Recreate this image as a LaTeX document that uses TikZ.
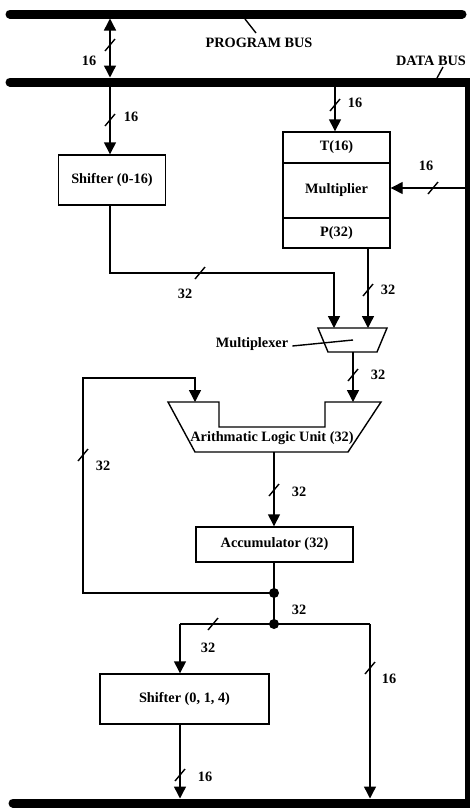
\documentclass[tikz,border=0pt]{standalone}
\usepackage{fontspec}
\setmainfont{Liberation Serif}
\usetikzlibrary{arrows.meta}
\begin{document}
\begin{tikzpicture}[x=1pt,y=-1pt,
  bus/.style={line width=9pt, line cap=round},
  wire/.style={line width=1.4pt},
  arr/.style={wire, -{Triangle[length=12pt,width=12pt]}},
  dbl/.style={wire, {Triangle[length=12pt,width=12pt]}-{Triangle[length=12pt,width=12pt]}},
  txt/.style={font=\fontsize{14.3}{16}\selectfont\bfseries, inner sep=0pt},
  blk/.style={draw, line width=1.4pt, inner sep=0pt, font=\fontsize{14.3}{16}\selectfont\bfseries},
  sl/.pic={\draw[line width=1.4pt] (-5,6) -- (5,-6);}
]
\useasboundingbox (0,0) rectangle (470,809);
% buses
\coordinate (pbL) at (10,14);
\coordinate (pbR) at (462,14);
\coordinate (dbL) at (10,82);
\coordinate (dbR) at (470,82);
\coordinate (bbL) at (13,803);
\coordinate (bbR) at (474,803);
\coordinate (rTop) at (467,82);
\coordinate (rBot) at (467,803);
\draw[bus] (pbL) -- (pbR);
\draw[bus] (dbL) -- (dbR);
\draw[bus] (bbL) -- (bbR);
\draw[line width=5pt] (rTop) -- (rBot);
% bus labels
\node[txt] (pbus) at (259,43) {PROGRAM BUS};
\draw[wire] (256,33) coordinate (pbk) -- (245,19) coordinate (pbt);
\node[txt] (dbus) at (431,61) {DATA BUS};
\draw[wire] (443,67) coordinate (dbk) -- (437,78) coordinate (dbt);
% program <-> data
\coordinate (pd1) at (110,18.5);
\coordinate (pd2) at (110,77.5);
\draw[dbl] (pd1) -- (pd2);
\pic at (110,45) {sl};
\node[txt] at (89,61) {16};
% shifter 0-16
\node[blk, minimum width=107pt, minimum height=50pt] (sh1) at (112,180) {Shifter (0-16)};
\coordinate (db1) at (110,86.5);
\draw[arr] (db1) -- (db1 |- sh1.north);
\pic at (110,120) {sl};
\node[txt] at (131,117) {16};
% multiplier
\node[blk, minimum width=107pt, minimum height=31pt] (T) at (336.5,147.5) {T(16)};
\node[blk, minimum width=107pt, minimum height=55pt] (mult) at (336.5,190.5) {Multiplier};
\node[blk, minimum width=107pt, minimum height=30pt] (P) at (336.5,233) {P(32)};
\coordinate (db2) at (335,86.5);
\draw[arr] (db2) -- (db2 |- T.north);
\pic at (335,105) {sl};
\node[txt] at (355,103) {16};
\coordinate (rin) at (464.5,188);
\draw[arr] (rin) -- (rin -| mult.east);
\pic at (433,188) {sl};
\node[txt] at (426,166) {16};
% multiplexer
\coordinate (muxTL) at (318,328);
\coordinate (muxTR) at (387,328);
\coordinate (muxBR) at (377,352);
\coordinate (muxBL) at (328,352);
\draw[wire, line join=miter] (muxTL) -- (muxTR) -- (muxBR) -- (muxBL) -- cycle;
\coordinate (muxIn1) at (334,328);
\coordinate (muxIn2) at (368,328);
\coordinate (muxOut) at (353,352);
\draw[arr] (sh1.south -| db1) |- (334,273) coordinate (bend1) -- (muxIn1);
\pic at (200,273) {sl};
\node[txt] at (185,294) {32};
\draw[arr] (P.south -| muxIn2) -- (muxIn2);
\pic at (368,290) {sl};
\node[txt] at (388,290) {32};
\node[txt] (muxlbl) at (252,344) {Multiplexer};
\draw[wire] (muxlbl.east) ++(4,2) coordinate (mlk) -- (353,340) coordinate (mlt);
% ALU
\coordinate (aluIn1) at (195,402);
\coordinate (aluIn2) at (353,402);
\coordinate (aluOut) at (274,452);
\draw[wire, line join=miter] (168,402) -- (219,402) -- (219,427) -- (325,427) -- (325,402) -- (381,402) -- (348,452) -- (195,452) -- cycle;
\node[txt] (alu) at (272,438) {Arithmatic Logic Unit (32)};
\draw[arr] (muxOut) -- (aluIn2);
\pic at (353,375) {sl};
\node[txt] at (378,375) {32};
% accumulator
\node[blk, minimum width=157pt, minimum height=35pt] (acc) at (274.5,544.5) {Accumulator (32)};
\draw[arr] (aluOut) -- (aluOut |- acc.north);
\pic at (274,490) {sl};
\node[txt] at (299,492) {32};
% junctions
\coordinate (j1) at (274,593);
\coordinate (j2) at (274,624);
\draw[wire] (acc.south -| j1) -- (j1) -- (j2);
\fill (j1) circle (5);
\fill (j2) circle (5);
\node[txt] at (299,610) {32};
% feedback
\draw[arr] (j1) -| (83,378) coordinate (fb) -| (aluIn1);
\pic at (83,455) {sl};
\node[txt] at (103,466) {32};
% shifter 0,1,4
\node[blk, minimum width=169pt, minimum height=50pt] (sh2) at (184.5,699) {Shifter (0, 1, 4)};
\coordinate (s2top) at (180,624);
\coordinate (rbr) at (370,624);
\draw[wire] (s2top) -- (rbr);
\draw[arr] (s2top) -- (s2top |- sh2.north);
\pic at (213,624) {sl};
\node[txt] at (208,648) {32};
\draw[arr] (rbr) -- (370,798.5) coordinate (rbe);
\pic at (370,668) {sl};
\node[txt] at (389,679) {16};
\draw[arr] (sh2.south -| s2top) -- (180,798.5) coordinate (sbe);
\pic at (180,775) {sl};
\node[txt] at (205,777) {16};
\end{tikzpicture}
\end{document}
